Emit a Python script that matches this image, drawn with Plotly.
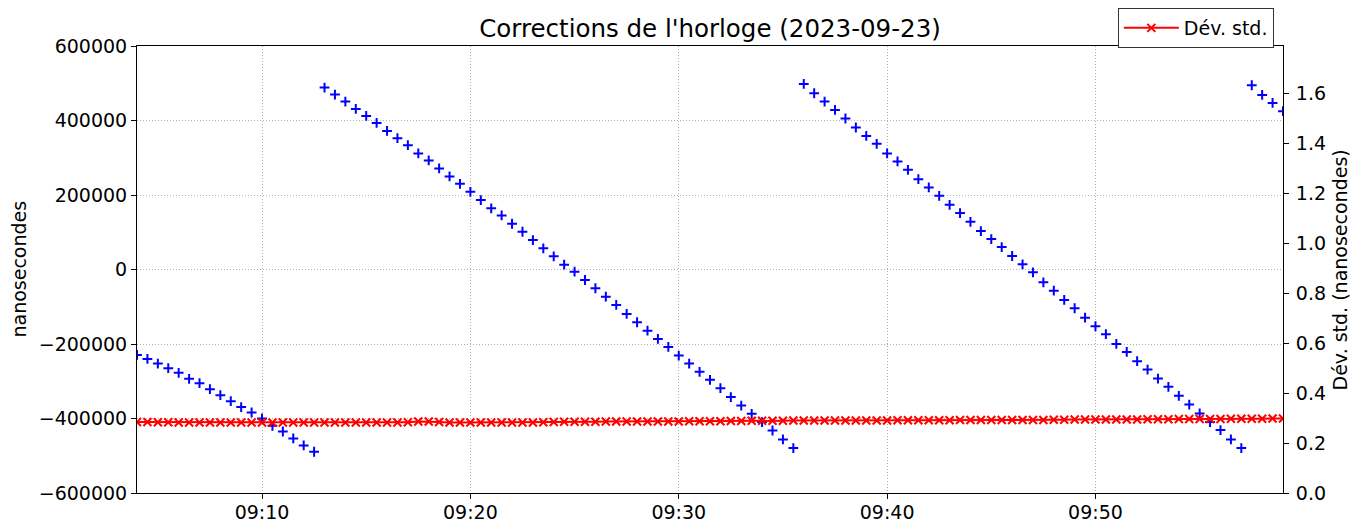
import pandas as pd
import plotly.graph_objects as go

# one sample every 30 s, 09:04:00 -> 09:59:00
times = pd.date_range("2023-09-23 09:04:00", periods=111, freq="30s")

# clock corrections (ns)
corrections = [
    -229200, -240000, -252600, -264900, -277500, -293600, -305100, -321200, -337300, -353400,
    -369400, -383900, -400000, -419600, -434900, -453600, -472400, -489300,
    488500, 469700, 450900, 431100, 412300, 393600, 372100, 352500, 333800, 311500,
    292800, 271300, 249900, 230000, 208600, 186300, 164100, 145300, 122800, 101300,
    79100, 56800, 35400, 12900, -5900, -28200, -50400, -72900, -95200, -119300,
    -141600, -164100, -186300, -207800, -231100, -252600, -274800, -296300, -318500, -342600,
    -365200, -387400, -409700, -432200, -456300, -479400,
    498100, 473200, 450900, 428400, 405400, 381200, 358700, 337300, 311500, 290100,
    267600, 242600, 220400, 197900, 173700, 151500, 128100, 103200, 81800, 60300,
    36200, 13900, -7500, -34300, -56800, -81800, -104000, -129200, -152300, -173700,
    -199700, -221200, -246100, -268600, -292800, -315000, -339200, -362500, -386600, -409700,
    -431100, -456300, -479400,
    494600, 468600, 447200, 424900,
]

# standard deviation (right axis)
std_dev = [
    0.284, 0.284, 0.283, 0.283, 0.282, 0.282, 0.282, 0.282, 0.282, 0.282,
    0.282, 0.282, 0.282, 0.282, 0.282, 0.282, 0.282, 0.282, 0.282, 0.282,
    0.282, 0.282, 0.282, 0.282, 0.282, 0.282, 0.283, 0.286, 0.286, 0.284,
    0.282, 0.282, 0.282, 0.282, 0.282, 0.282, 0.282, 0.282, 0.282, 0.283,
    0.284, 0.285, 0.285, 0.285, 0.285, 0.286, 0.286, 0.286, 0.286, 0.286,
    0.286, 0.286, 0.286, 0.287, 0.287, 0.287, 0.287, 0.288, 0.288, 0.289,
    0.289, 0.289, 0.289, 0.290, 0.290, 0.290, 0.290, 0.290, 0.290, 0.290,
    0.290, 0.290, 0.290, 0.291, 0.291, 0.291, 0.291, 0.291, 0.291, 0.292,
    0.292, 0.292, 0.292, 0.292, 0.292, 0.292, 0.292, 0.292, 0.293, 0.293,
    0.294, 0.294, 0.294, 0.294, 0.294, 0.294, 0.294, 0.295, 0.295, 0.295,
    0.296, 0.296, 0.296, 0.296, 0.296, 0.297, 0.297, 0.297, 0.297, 0.298, 0.298,
]

FONT = "DejaVu Sans"

fig = go.Figure()

fig.add_trace(go.Scatter(
    x=times, y=corrections, mode="markers", showlegend=False,
    marker=dict(symbol="cross-thin", size=7, color="blue",
                line=dict(color="blue", width=2))))

fig.add_trace(go.Scatter(
    x=times, y=std_dev, yaxis="y2", mode="lines+markers", name="Dév. std.",
    line=dict(color="red", width=2),
    marker=dict(symbol="x-thin", size=8, color="red",
                line=dict(color="red", width=2))))

axis_common = dict(
    showline=True, linecolor="black", linewidth=1,
    ticks="outside", ticklen=5, tickcolor="black", automargin=False,
    zeroline=False, tickfont=dict(size=19, color="black"))

grid = dict(showgrid=True, gridcolor="#b0b0b0", griddash="1px,2px", gridwidth=1)

# the page body adds an 8 px offset, margins are compensated for it
fig.update_layout(
    width=1354, height=521,
    margin=dict(l=129, r=79, t=38, b=36, autoexpand=False),
    paper_bgcolor="white", plot_bgcolor="white",
    font=dict(family=FONT, color="black", size=19),
    title=dict(text="Corrections de l'horloge (2023-09-23)", x=0.5, xref="paper",
               y=1 - 20 / 521, yanchor="middle", font=dict(size=24.5, color="black")),
    xaxis=dict(
        type="date", range=[times[0], times[-1]],
        tickformat="%H:%M", dtick=600000, tick0="2023-09-23 09:00:00",
        mirror=True, ticklabelstandoff=-3, **grid, **axis_common),
    yaxis=dict(
        range=[-600000, 600000], dtick=200000, tickformat="d",
        **grid, **axis_common),
    yaxis2=dict(
        overlaying="y", side="right", range=[0, 1.789], dtick=0.2, tickformat=".1f",
        showgrid=False, ticklabelstandoff=3, **axis_common),
    legend=dict(x=0.992, y=1.085, xanchor="right", yanchor="top",
                bordercolor="#333", borderwidth=1, bgcolor="white",
                itemwidth=55, font=dict(size=19)),
    annotations=[
        dict(text="nanosecondes", xref="paper", yref="paper", x=-0.1038, y=0.5,
             xanchor="center", yanchor="middle", textangle=-90, showarrow=False,
             font=dict(size=19, color="black")),
        dict(text="Dév. std. (nanosecondes)", xref="paper", yref="paper", x=1.0497, y=0.5,
             xanchor="center", yanchor="middle", textangle=-90, showarrow=False,
             font=dict(size=19, color="black")),
    ],
)

fig.write_html("out.html")
